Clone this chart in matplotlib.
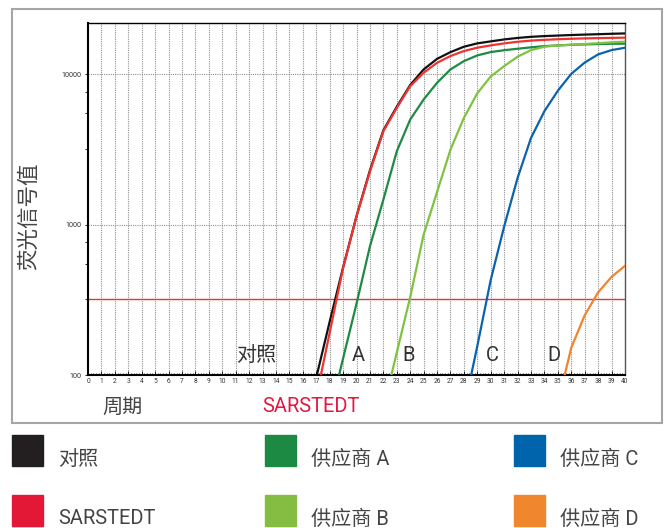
import matplotlib
matplotlib.use("Agg")
import matplotlib.pyplot as plt
from matplotlib.patches import Rectangle
from matplotlib.ticker import FixedLocator, NullFormatter

plt.rcParams['font.family'] = ['Roboto', 'Noto Sans CJK SC', 'DejaVu Sans']

# cycles and fluorescence readings
cycles_ctrl = list(range(17, 41))
ctrl = [96, 226, 520, 1140, 2300, 4250, 6100, 8500, 10800, 12700, 14080, 15290,
        16100, 16600, 17100, 17500, 17800, 18000, 18150, 18300, 18420, 18530, 18650, 18750]
sarstedt = [71, 191, 514, 1136, 2256, 4188, 5995, 8350, 10260, 11960, 13260, 14320,
            15070, 15610, 16100, 16500, 16800, 17000, 17150, 17280, 17380, 17450, 17520, 17570]

cycles_a = list(range(18, 41))
vendor_a = [55, 129, 298, 717, 1468, 3080, 5012, 6810, 8800, 10800, 12270, 13390,
            14090, 14500, 14830, 15150, 15440, 15600, 15750, 15850, 15930, 16000, 16030]

cycles_b = list(range(22, 41))
vendor_b = [60, 141, 330, 858, 1650, 3162, 5140, 7500, 9700, 11360, 13130, 14520,
            15290, 15600, 15770, 15950, 16150, 16350, 16520]

cycles_c = list(range(28, 41))
vendor_c = [59, 156, 430, 974, 2050, 3785, 5700, 7800, 10100, 12000, 13600, 14520, 15060]

cycles_d = list(range(35, 41))
vendor_d = [65, 152, 250, 355, 450, 533]

threshold = 320

series = [
    (cycles_ctrl, ctrl, '#111111'),
    (cycles_ctrl, sarstedt, '#ee3330'),
    (cycles_a, vendor_a, '#1e8a44'),
    (cycles_b, vendor_b, '#7fc241'),
    (cycles_c, vendor_c, '#0b63ad'),
    (cycles_d, vendor_d, '#f2842c'),
]

curve_labels = ['对照', 'A', 'B', 'C', 'D']
curve_label_x = [12.5, 20.1, 23.9, 30.1, 34.7]

legend_names = ['对照', 'SARSTEDT', '供应商 A', '供应商 B', '供应商 C', '供应商 D']
legend_colors = ['#231f20', '#e31837', '#1d8a43', '#84bd41', '#0064ad', '#f0862e']

W, H = 668, 528
fig = plt.figure(figsize=(W / 100, H / 100), dpi=100)


def fx(x):
    return x / W


def fy(y):
    return 1 - y / H


# outer gray frame
fig.patches.append(Rectangle((fx(12), fy(423)), (662 - 12) / W, (423 - 9) / H,
                             transform=fig.transFigure, fill=False,
                             edgecolor='#a5a5a5', linewidth=1.5))

ax = fig.add_axes([fx(88), fy(375), (625 - 88) / W, (375 - 23) / H])
ax.set_yscale('log')
ax.set_xlim(0, 40)
ax.set_ylim(100, 22000)

for xs, ys, c in series:
    ax.plot(xs, ys, color=c, linewidth=1.6, solid_joinstyle='round', zorder=3)

ax.axhline(threshold, color='#e03a30', linewidth=1.0, zorder=2)

# ticks and grid
ax.set_xticks(range(0, 41))
ax.set_xticklabels([str(i) for i in range(0, 41)], fontsize=4.8, color='#333333')
ax.xaxis.set_minor_locator(FixedLocator([i / 5 for i in range(0, 201)]))
ax.tick_params(axis='x', which='major', direction='in', length=3, width=0.6, pad=2.5)
ax.tick_params(axis='x', which='minor', direction='in', length=1.5, width=0.5)
ax.yaxis.set_major_locator(FixedLocator([100, 1000, 10000]))
ax.set_yticklabels(['100', '1000', '10000'], fontsize=5.2, color='#333333')
ax.yaxis.set_minor_locator(FixedLocator([320, 550, 770, 3200, 5500, 7600]))
ax.yaxis.set_minor_formatter(NullFormatter())
ax.tick_params(axis='y', which='major', direction='out', length=2.5, width=0.6, pad=2)
ax.tick_params(axis='y', which='minor', direction='out', length=2, width=0.6)

for i in range(1, 40):
    ax.axvline(i, color='#909090', linestyle=(0, (1, 1)), linewidth=0.8, zorder=1)
for v in [1000, 10000]:
    ax.axhline(v, color='#909090', linestyle=(0, (1, 1)), linewidth=0.8, zorder=1)

ax.spines['left'].set_linewidth(1.5)
ax.spines['bottom'].set_linewidth(1.5)
ax.spines['top'].set_linewidth(1.0)
ax.spines['right'].set_linewidth(1.0)
ax.spines['right'].set_color('#555555')

for lab, x in zip(curve_labels, curve_label_x):
    ax.text(x, 134, lab, fontsize=14.5, color='#333333', ha='center', va='center',
            zorder=4)

fig.text(fx(30), fy(216), '荧光信号值', rotation=90, fontsize=15.5, color='#444444',
         ha='center', va='center')
fig.text(fx(122), fy(407), '周期', fontsize=14.5, color='#444444',
         ha='center', va='center')
fig.text(fx(311), fy(407), 'SARSTEDT', fontsize=14.5, color='#e4173e',
         ha='center', va='center')

# legend squares
sq_x = [12, 12, 265, 265, 514, 514]
sq_y = [435, 495, 435, 495, 435, 495]
for name, c, x, y in zip(legend_names, legend_colors, sq_x, sq_y):
    fig.patches.append(Rectangle((fx(x), fy(y + 31)), 31 / W, 31 / H,
                                 transform=fig.transFigure, color=c))
    fig.text(fx(x + 46), fy(y + 24), name, fontsize=14.5, color='#444444',
             ha='left', va='center')

fig.savefig('out.png', dpi=100)
